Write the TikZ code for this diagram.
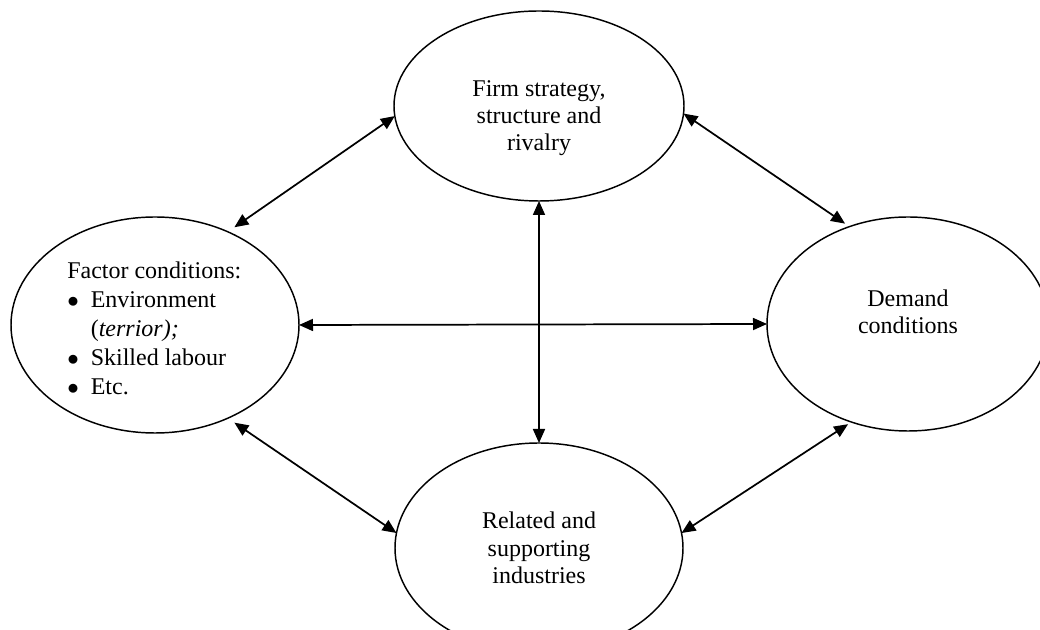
\documentclass[tikz,border=0pt]{standalone}
\usepackage{fontspec}
\setmainfont{Liberation Serif}
\usetikzlibrary{arrows.meta,shapes.geometric}
\begin{document}
\begin{tikzpicture}[x=0.75pt,y=-0.75pt,
  oval/.style={draw, ellipse, line width=1.1pt, inner sep=0pt, outer sep=0pt},
  lbl/.style={font=\fontsize{18}{20.5}\selectfont, align=center, inner sep=0pt},
  link/.style={line width=1.3pt, {Triangle[length=10.5pt,width=9pt]}-{Triangle[length=10.5pt,width=9pt]}}]
\useasboundingbox (0,0) rectangle (1040,630);
% ellipses
\node[oval, minimum width=217.5pt, minimum height=142.5pt] (T) at (539,106) {};
\node[oval, minimum width=216pt, minimum height=162pt] (L) at (155,325) {};
\node[oval, minimum width=211.5pt, minimum height=160.5pt] (R) at (908,324) {};
\node[oval, minimum width=216pt, minimum height=157.5pt] (B) at (539,548) {};
% labels
\node[lbl] (Tt) at (539,118) {Firm strategy,\\structure and\\rivalry};
\node[lbl] (Rt) at (908,312) {Demand\\conditions};
\node[lbl] (Bt) at (539,548) {Related and\\supporting\\industries};
\node[inner sep=0pt, anchor=base west, font=\fontsize{18}{21.75}\selectfont] (Lt) at (67,279)
  {\begin{tabular}[t]{@{}l@{\hspace{9pt}}l@{}}
   \multicolumn{2}{@{}l@{}}{Factor conditions:}\\
   $\bullet$ & Environment\\
    & (\textit{terrior);}\\
   $\bullet$ & Skilled labour\\
   $\bullet$ & Etc.
   \end{tabular}};
% connectors
\draw[link, shorten >=6pt] (T.184) -- (L.52);
\draw[link, shorten >=4pt] (T.357) -- (R.121);
\draw[link] (L.east) -- (R.west);
\draw[link] (T.south) -- (B.north);
\draw[link, shorten <=6pt] (L.-52) -- (B.174);
\draw[link, shorten <=3pt] (R.240) -- (B.6);
\end{tikzpicture}
\end{document}
